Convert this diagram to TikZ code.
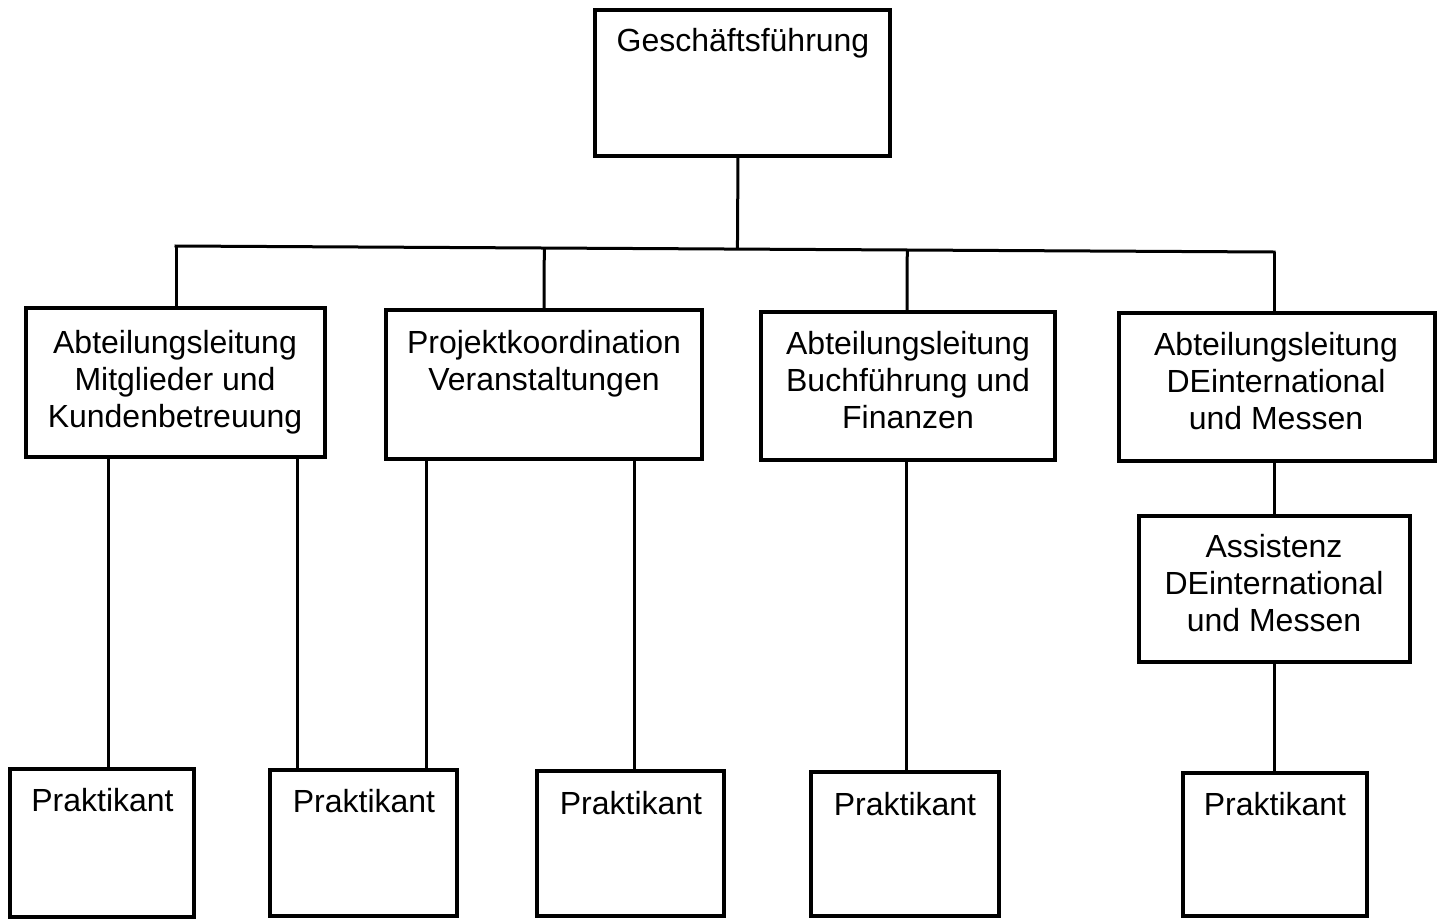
\documentclass[tikz,border=0pt]{standalone}
\usepackage{fontspec}
\setmainfont{Liberation Sans}
\usetikzlibrary{calc}
\begin{document}
\begin{tikzpicture}[x=1pt,y=-1pt,
  box/.style={draw=black,line width=4pt,rectangle,inner sep=0pt,outer sep=0pt,fill=white},
  conn/.style={draw=black,line width=3pt},
  lbl/.style={anchor=north,inner sep=0pt,align=center,font=\fontsize{32}{37}\selectfont}]
\useasboundingbox (0,0) rectangle (1444,919);
\fill[white] (0,0) rectangle (1444,919);
% boxes
\node[box,minimum width=295,minimum height=146] (g) at (742.5,83) {};
\node[box,minimum width=299,minimum height=149] (a) at (175.5,382.5) {};
\node[box,minimum width=316,minimum height=149] (b) at (544,384.5) {};
\node[box,minimum width=294,minimum height=148] (c) at (908,386) {};
\node[box,minimum width=316,minimum height=148] (d) at (1277,387) {};
\node[box,minimum width=271,minimum height=146] (s) at (1274.5,589) {};
\node[box,minimum width=184,minimum height=148] (p1) at (102,843) {};
\node[box,minimum width=187,minimum height=146] (p2) at (363.5,843) {};
\node[box,minimum width=187,minimum height=145] (p3) at (630.5,843.5) {};
\node[box,minimum width=188,minimum height=144] (p4) at (905,844) {};
\node[box,minimum width=184,minimum height=143] (p5) at (1275,844.5) {};
% texts
\node[lbl] (tg) at (743,28) {Geschäftsführung};
\node[lbl] (ta) at (175,330) {Abteilungsleitung\\Mitglieder und\\Kundenbetreuung};
\node[lbl] (tb) at (544,330) {Projektkoordination\\Veranstaltungen};
\node[lbl] (tc) at (908,331) {Abteilungsleitung\\Buchführung und\\Finanzen};
\node[lbl] (td) at (1276,332) {Abteilungsleitung\\DEinternational\\und Messen};
\node[lbl] (ts) at (1274,534) {Assistenz\\DEinternational\\und Messen};
\node[lbl] (tp1) at (102.5,788) {Praktikant};
\node[lbl] (tp2) at (364,789) {Praktikant};
\node[lbl] (tp3) at (631,791) {Praktikant};
\node[lbl] (tp4) at (905,792) {Praktikant};
\node[lbl] (tp5) at (1275,792) {Praktikant};
% connectors
\coordinate (busL) at (176,246);
\coordinate (busR) at (1274,252);
\begin{scope}[on background layer/.style={}]
\draw[conn] ([xshift=-4.5pt]g.south) -- ($(busL)!([xshift=-4.5pt]g.south)!(busR)$);
\draw[conn,line cap=rect] (busL) -- (busR);
\draw[conn] (busL) -- (a.north -| busL);
\draw[conn] ($(busL)!(b.north)!(busR)$) -- (b.north);
\draw[conn] ($(busL)!([xshift=-1pt]c.north)!(busR)$) -- ([xshift=-1pt]c.north);
\draw[conn] (busR) -- (d.north -| busR);
\draw[conn] ([xshift=6pt]p1.north |- a.south) -- ([xshift=6pt]p1.north);
\draw[conn] ([xshift=-66.5pt]p2.north |- a.south) -- ([xshift=-66.5pt]p2.north);
\draw[conn] ([xshift=62.5pt]p2.north |- b.south) -- ([xshift=62.5pt]p2.north);
\draw[conn] ([xshift=3.5pt]p3.north |- b.south) -- ([xshift=3.5pt]p3.north);
\draw[conn] ([xshift=1pt]p4.north |- c.south) -- ([xshift=1pt]p4.north);
\draw[conn] ([xshift=-3pt]d.south) -- ([xshift=-3pt]d.south |- s.north);
\draw[conn] ([xshift=-0.5pt]s.south) -- ([xshift=-0.5pt]s.south |- p5.north);
\end{scope}
\end{tikzpicture}
\end{document}
